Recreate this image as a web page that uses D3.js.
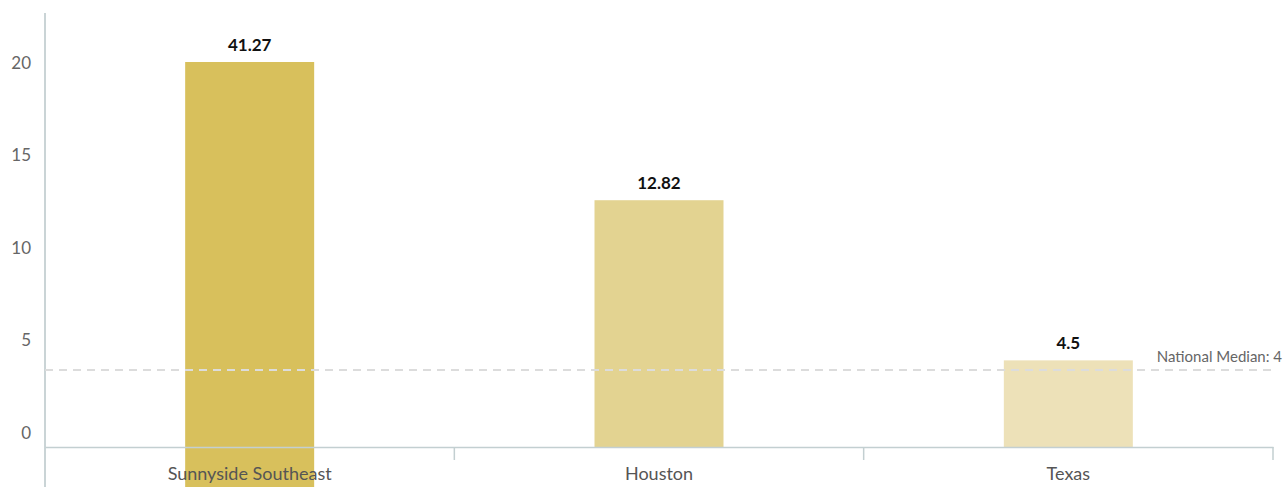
<!DOCTYPE html>
<html>
<head>
<meta charset="utf-8">
<script src="https://cdn.jsdelivr.net/npm/d3@7"></script>
<style>
  body { margin: 0; background: #fff; }
  svg text { font-family: Lato, "Open Sans", sans-serif; }
</style>
</head>
<body>
<script>
// chart data
const places = ['Sunnyside Southeast', 'Houston', 'Texas'];
const values = [41.27, 12.82, 4.5];
const barColors = ['#d8c05c', '#e3d391', '#ede1b8'];
const yTicks = [0, 5, 10, 15, 20];
const medianValue = 4;
const medianLabel = 'National Median: 4';

let width = 1284, height = 487;
let leftX = 45, rightX = 1273, topY = 13, axisY = 447;

let svg = d3.select('body').append('svg')
  .attr('width', width)
  .attr('height', height);

let xScale = d3.scaleBand()
  .domain(places)
  .range([leftX, rightX]);

// bars use this one
let yScale = d3.scaleLinear()
  .domain([0, 20])
  .range([axisY, 62]);

// tick labels sit a bit above their values
let yLabelScale = d3.scaleLinear()
  .domain([0, 20])
  .range([433, 63]);

let barWidth = 129;

// y axis line + labels
svg.append('line')
  .attr('x1', leftX).attr('x2', leftX)
  .attr('y1', topY).attr('y2', height)
  .attr('stroke', '#b9c6c8').attr('stroke-width', 1.5);

let yAxis = d3.axisLeft(yLabelScale).tickValues(yTicks).tickSize(0).tickPadding(14);
let gy = svg.append('g')
  .attr('transform', 'translate(' + leftX + ',0)')
  .call(yAxis);
gy.select('.domain').remove();
gy.selectAll('text')
  .attr('fill', '#666')
  .style('font-size', '17px');

// bars
svg.selectAll('rect.bar')
  .data(values)
  .enter()
  .append('rect')
  .attr('class', 'bar')
  .attr('x', (d, i) => xScale(places[i]) + xScale.bandwidth() / 2 - barWidth / 2)
  .attr('y', d => Math.max(yScale(d), yScale(20)))
  .attr('width', barWidth)
  .attr('height', d => yScale(0) - yScale(d))
  .attr('fill', (d, i) => barColors[i]);

// value labels
svg.selectAll('text.val')
  .data(values)
  .enter()
  .append('text')
  .attr('class', 'val')
  .attr('x', (d, i) => xScale(places[i]) + xScale.bandwidth() / 2)
  .attr('y', d => Math.max(yScale(d), yScale(20)) - 11)
  .attr('text-anchor', 'middle')
  .attr('fill', '#111')
  .style('font-size', '17px')
  .style('font-weight', 'bold')
  .text(d => d);

// x axis
let xAxis = d3.axisBottom(xScale).tickSize(0).tickPadding(20);
let gx = svg.append('g')
  .attr('transform', 'translate(0,' + axisY + ')')
  .call(xAxis);
gx.select('.domain').attr('stroke', '#c3cfd1').attr('stroke-width', 1.5);
gx.selectAll('text')
  .attr('fill', '#555')
  .style('font-size', '18px');

// separators between bands
svg.selectAll('line.sep')
  .data(places.slice(1).concat(['end']))
  .enter()
  .append('line')
  .attr('class', 'sep')
  .attr('x1', (d, i) => i < 2 ? xScale(d) : rightX)
  .attr('x2', (d, i) => i < 2 ? xScale(d) : rightX)
  .attr('y1', axisY)
  .attr('y2', axisY + 13)
  .attr('stroke', '#c3cfd1')
  .attr('stroke-width', 1.5);

// national median
svg.append('line')
  .attr('x1', leftX).attr('x2', rightX)
  .attr('y1', yScale(medianValue)).attr('y2', yScale(medianValue))
  .attr('stroke', '#dcdcdc')
  .attr('stroke-width', 2)
  .attr('stroke-dasharray', '8,6');

svg.append('text')
  .attr('x', 1282)
  .attr('y', yScale(medianValue) - 8)
  .attr('text-anchor', 'end')
  .attr('fill', '#666')
  .style('font-size', '15px')
  .text(medianLabel);
</script>
</body>
</html>
